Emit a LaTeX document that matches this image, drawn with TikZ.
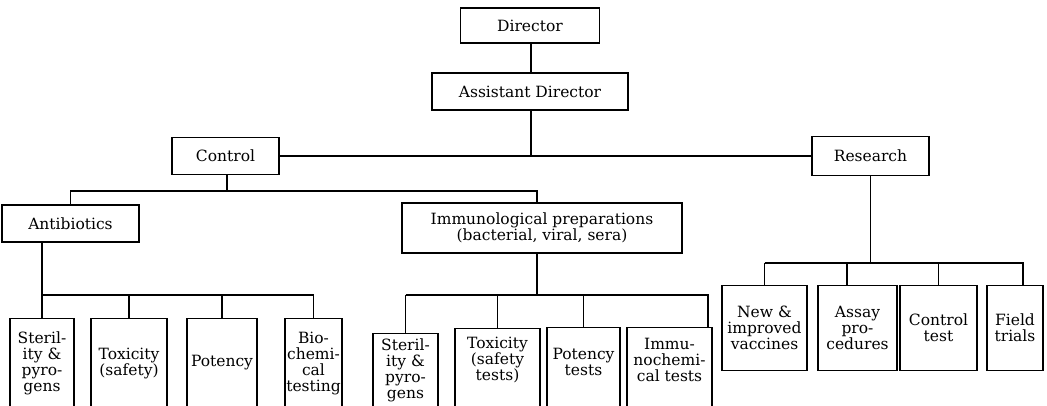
\documentclass[tikz,border=0pt]{standalone}
\usepackage{fontspec}
\setmainfont{DejaVu Serif}
\usepackage{tikz}
\usetikzlibrary{positioning,calc}

\begin{document}
\begin{tikzpicture}[x=1pt,y=-1pt,line width=1.1pt,font=\fontsize{15.5}{16}\selectfont]
    \tikzset{
        unit/.style={
            draw,
            align=center,
            inner sep=2pt
        },
        kid/.style={
            draw,
            anchor=north,
            align=center,
            inner xsep=1pt,
            text depth=100pt
        },
        job/.style={
            draw,
            anchor=north,
            align=center,
            inner xsep=1pt,
            minimum height=85
        },
        link/.style={-, line width=1.1pt}
    }
    \useasboundingbox (0,0) rectangle (1047,405);
    \clip (0,0) rectangle (1047,405);

    % Head office
    \node[unit, minimum width=139, minimum height=35] (Dir) at (530,25.5) {Director};
    \node[unit, minimum width=196, minimum height=37] (AsstDir) at (530,91.5) {Assistant Director};
    \node[unit, minimum width=107, minimum height=37] (Ctrl) at (225.5,156) {Control};
    \node[unit, minimum width=117, minimum height=39] (Res) at (870.5,156) {Research};

    % Control branch
    \node[unit, minimum width=137, minimum height=37] (Anti) at (70.5,223.5) {Antibiotics};
    \node[unit, minimum width=280, minimum height=50] (Immu) at (542,228) {Immunological preparations\\(bacterial, viral, sera)};

    % Antibiotics tests
    \node[kid, minimum width=64, inner ysep=13.5] (A_Ster) at (42,318) {Steril-\\ity \&\\pyro-\\gens};
    \node[kid, minimum width=76, inner ysep=29.5] (A_Tox) at (129,318) {Toxicity\\(safety)};
    \node[kid, minimum width=70, inner ysep=37] (A_Pot) at (222,318) {Potency};
    \node[kid, minimum width=57, inner ysep=13.5] (A_Bio) at (313.5,318) {Bio-\\chemi-\\cal\\testing};

    % Immunological tests
    \node[kid, minimum width=65, inner ysep=5] (I_Ster) at (405.5,333) {Steril-\\ity \&\\pyro-\\gens};
    \node[kid, minimum width=85, inner ysep=9] (I_Tox) at (497.5,328) {Toxicity\\(safety\\tests)};
    \node[kid, minimum width=73, inner ysep=21] (I_Pot) at (583.5,327) {Potency\\tests};
    \node[kid, minimum width=85, inner ysep=11] (I_Imm) at (669.5,327) {Immu-\\nochemi-\\cal tests};

    % Research work
    \node[job, minimum width=85] (R_New) at (764.5,285) {New \&\\improved\\vaccines};
    \node[job, minimum width=79] (R_Assay) at (857.5,285) {Assay\\pro-\\cedures};
    \node[job, minimum width=77] (R_Ctrl) at (938.5,285) {Control\\test};
    \node[job, minimum width=56] (R_Field) at (1015,285) {Field\\trials};

    % bus points
    \coordinate (topx) at (531,0);
    \coordinate (cbus) at (227,191);
    \coordinate (immx) at (537,0);
    \coordinate (abus) at (0,295);
    \coordinate (ibus) at (0,295);
    \coordinate (rbus) at (0,263);
    \coordinate (I_Imm_in) at (708,0);
    \coordinate (R_Assay_in) at (847,0);
    \coordinate (R_Field_in) at (1023,0);

    % Lines
    \draw[link] (Dir.south -| topx) -- (AsstDir.north -| topx);
    \draw[link] (AsstDir.south -| topx) -- (Ctrl.east -| topx);
    \draw[link] (Ctrl.east) -- (Res.west);
    \draw[link] (Ctrl.south -| cbus) -- (cbus);
    \draw[link] (Anti.north) |- (cbus) -| (Immu.north -| immx);

    \draw[link] (Anti.south -| A_Ster) -- (A_Ster.north);
    \draw[link] (A_Ster |- abus) -| (A_Bio.north);
    \foreach \k in {A_Tox, A_Pot}
        \draw[link] (\k |- abus) -- (\k.north);

    \draw[link] (Immu.south -| immx) -- (immx |- ibus);
    \draw[link] (I_Ster |- ibus) -| (I_Imm.north -| I_Imm_in);
    \draw[link] (I_Ster |- ibus) -- (I_Ster.north);
    \foreach \k in {I_Tox, I_Pot}
        \draw[link] (\k |- ibus) -- (\k.north);

    \draw[link] (Res.south) -- (Res |- rbus);
    \draw[link] (R_New |- rbus) -| (R_Field.north -| R_Field_in);
    \draw[link] (R_New |- rbus) -- (R_New.north);
    \draw[link] (R_Assay_in |- rbus) -- (R_Assay.north -| R_Assay_in);
    \draw[link] (R_Ctrl |- rbus) -- (R_Ctrl.north);
\end{tikzpicture}
\end{document}
